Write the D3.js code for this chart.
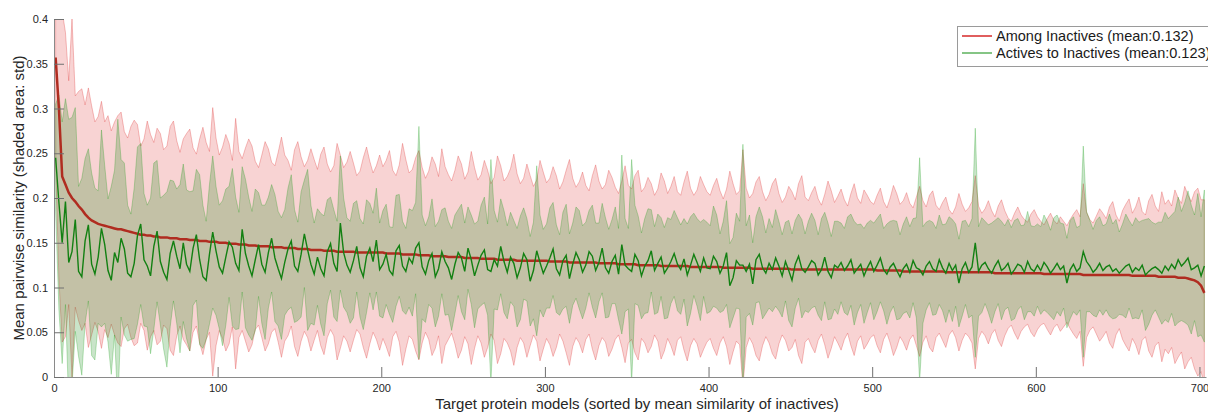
<!DOCTYPE html>
<html>
<head>
<meta charset="utf-8">
<script src="https://cdn.jsdelivr.net/npm/d3@7"></script>
<style>
    body { margin: 0; background: #fff; }
    svg { display: block; font-family: "Liberation Sans", Arial, Helvetica, sans-serif; }
</style>
</head>
<body>
<svg id="chart" width="1208" height="414"></svg>
<script>
// values, in thousandths, one value every 2nd model (1, 3, 5 ... 703)
var step = 2;

var inactMean = [
    357,300,224,215,206,200,196,191,187,182, 178,175,173,171,170,169,168,167,166,165,
    165,164,163,162,161,160,159,159,158,158, 157,157,156,156,156,155,155,155,154,154,
    154,153,153,153,152,152,152,151,151,151, 150,150,150,149,149,149,148,148,148,147,
    147,147,146,146,146,146,145,145,145,145, 144,144,144,144,143,143,143,143,142,142,
    142,142,141,141,141,141,140,140,140,140, 140,140,139,139,139,139,139,139,139,139,
    139,138,138,138,138,138,137,137,137,137, 137,136,136,136,136,135,135,135,135,135,
    134,134,134,134,134,133,133,133,133,133, 132,132,132,132,132,131,131,131,131,131,
    131,130,130,130,130,130,130,130,130,130, 130,129,129,129,129,129,129,128,128,128,
    128,128,128,128,128,128,127,127,127,127, 127,127,126,126,126,126,126,126,125,125,
    125,125,125,125,125,124,124,124,124,124, 124,124,124,124,123,123,123,123,123,123,
    123,123,123,123,122,122,122,122,122,122, 122,122,122,121,121,121,121,121,121,121,
    121,121,121,121,121,120,120,120,120,120, 120,120,120,120,120,120,120,120,120,120,
    120,120,120,120,120,120,120,120,120,120, 120,119,119,119,119,119,119,119,119,118,
    118,118,118,118,118,118,118,118,118,118, 118,118,117,117,117,117,117,117,117,117,
    117,117,117,117,117,117,117,116,116,116, 116,116,116,116,116,116,116,116,116,116,
    116,116,115,115,115,115,115,115,115,115, 115,115,115,115,114,114,114,114,114,114,
    114,114,114,114,114,114,114,114,114,113, 113,113,113,113,113,113,113,112,112,112,
    112,112,112,111,111,111,110,109,108,106, 102,94
];
var inactStd = [
    120,190,185,170,125,200,118,128,135,122, 145,128,112,120,138,116,124,108,119,127,
    131,110,104,118,126,122,99,107,128,113, 105,121,116,98,102,125,131,109,97,112,
    118,124,103,96,114,127,110,101,150,116, 98,107,121,112,93,140,104,96,108,119,
    111,94,88,102,117,109,95,91,106,123, 104,98,87,110,120,103,92,99,113,101,
    90,107,116,97,88,95,121,108,94,100, 112,99,86,91,106,118,102,89,97,109,
    96,104,115,93,87,99,124,106,91,95, 108,117,98,86,94,111,103,89,120,100,
    92,85,97,113,104,88,96,119,101,87, 94,110,99,84,91,116,105,88,93,102,
    118,97,86,92,108,95,83,90,112,99, 87,93,106,96,81,89,102,115,94,84,
    90,101,86,80,97,109,92,83,88,104, 96,85,79,93,110,88,84,99,106,82,
    87,98,91,78,85,104,95,81,89,100, 83,79,94,106,88,80,86,101,92,84,
    80,91,99,85,77,88,108,94,82,86, 132,89,78,84,97,103,86,76,83,95,
    101,84,74,80,92,87,78,96,105,81, 77,86,93,79,72,84,99,88,75,82,
    90,78,71,85,96,80,74,89,83,76, 73,84,92,77,70,81,95,86,74,79,
    88,76,71,83,95,79,72,85,90,74, 69,77,84,70,65,73,88,76,68,72,
    79,108,74,66,71,80,69,63,75,82, 70,62,58,67,74,65,60,57,66,71,
    63,58,55,62,68,60,56,64,59,54, 61,67,72,64,102,70,62,58,66,74,
    69,63,76,82,67,60,72,79,85,70, 77,88,72,68,84,91,78,73,95,81,
    86,79,97,89,83,102,93,87,99,105, 96,104
];
var actMean = [
    245,195,150,196,128,140,176,118,112,152, 170,126,115,134,166,148,119,108,139,128,
    155,143,116,112,127,158,171,131,124,113, 146,163,129,117,109,138,152,135,121,150,
    126,118,144,159,131,112,108,137,162,141, 123,116,134,151,145,127,119,165,138,124,
    113,131,148,126,117,139,155,133,121,110, 128,143,152,124,118,137,160,142,126,115,
    134,121,113,140,149,127,118,172,139,125, 117,130,146,122,112,135,144,129,153,120,
    126,137,119,114,141,147,124,118,133,127, 144,150,123,115,130,138,112,121,140,129,
    122,109,126,139,133,118,144,131,113,125, 136,142,120,118,131,124,146,129,117,134,
    127,111,122,138,131,107,119,141,128,116, 124,133,143,121,114,130,136,110,126,139,
    131,117,125,140,135,119,128,144,122,116, 129,136,115,148,125,121,118,137,130,113,
    124,130,141,119,127,134,116,122,129,138, 126,120,132,114,125,137,128,118,133,122,
    121,135,129,116,124,139,102,111,130,125, 125,118,126,104,131,137,122,116,127,120,
    133,124,113,129,119,108,126,135,121,117, 123,130,127,114,120,134,118,111,125,122,
    128,119,124,131,116,121,126,113,122,129, 118,125,133,120,115,123,127,119,112,121,
    126,117,130,122,120,114,124,129,121,118, 131,122,116,127,119,125,105,121,128,117,
    123,150,118,125,128,121,116,124,130,119, 122,127,115,120,126,124,117,129,121,118,
    125,119,128,123,116,121,127,120,124,105, 120,126,118,122,140,129,124,117,121,127,
    119,123,125,118,121,116,120,124,126,117, 122,119,125,114,118,121,123,120,116,124,
    119,126,121,131,124,128,133,120,122,125, 113,124
];
var actStd = [
    60,120,135,115,160,150,125,95,110,92, 85,102,96,74,110,88,80,105,92,160,
    88,96,76,70,84,99,90,74,68,87, 93,79,71,86,98,82,67,75,94,88,
    83,89,64,73,95,80,66,78,85,72, 69,81,76,62,88,74,65,70,83,77,
    72,79,58,66,75,62,60,71,64,68, 59,68,74,63,55,70,60,90,66,57,
    54,62,67,58,52,60,56,75,61,53, 57,64,51,55,59,63,50,54,58,52,
    60,56,49,53,62,57,50,48,55,59, 51,130,58,54,49,61,56,53,47,60,
    52,57,55,48,60,54,46,50,58,49, 56,59,51,125,55,49,53,57,52,50,
    48,55,58,51,46,50,54,95,53,49, 47,56,52,49,45,54,57,50,46,51,
    55,52,48,46,57,53,44,50,56,49, 47,54,51,100,52,45,125,55,50,48,
    53,58,46,49,55,44,51,56,47,48, 52,50,45,57,54,46,49,55,43,51,
    48,56,52,44,50,58,47,45,53,49, 135,51,55,46,48,53,57,45,50,47,
    54,50,46,44,56,52,49,47,55,43, 51,53,48,45,57,50,54,46,49,52,
    44,47,55,51,58,49,45,53,50,46, 54,52,49,46,56,51,48,55,47,50,
    53,51,47,56,125,54,49,46,52,48, 50,48,55,52,57,46,49,53,47,51,
    54,128,50,53,46,49,56,51,48,55, 47,49,52,55,51,45,53,56,48,50,
    46,49,53,51,48,57,54,52,47,50, 55,53,49,47,118,56,51,48,54,52,
    50,48,57,53,55,46,51,58,49,52, 56,54,50,62,59,52,48,53,57,60,
    58,55,64,70,61,67,75,72,59,80, 66,85
];

var xTicks = [0, 100, 200, 300, 400, 500, 600, 700];
var yTicks = [0, 0.05, 0.1, 0.15, 0.2, 0.25, 0.3, 0.35, 0.4];
var seriesNames = ['Among Inactives (mean:0.132)', 'Actives to Inactives (mean:0.123)'];
var xTitle = 'Target protein models (sorted by mean similarity of inactives)';
var yTitle = 'Mean pairwise similarity (shaded area: std)';

drawChart();

function drawChart() {
    var svg = d3.select('#chart');
    // plot box in pixels (note: "top" is taken by window.top, so px* names)
    var pxLeft = 54, pxRight = 1206, pxTop = 19, pxBottom = 377;

    var x = d3.scaleLinear().domain([0, 704]).range([pxLeft, pxRight]);
    var y = d3.scaleLinear().domain([0, 0.4]).range([pxBottom, pxTop]);

    function rows(mean, std) {
        return mean.map(function (m, i) {
            return {i: 1 + i * step, m: m / 1000, s: std[i] / 1000};
        });
    }
    var inact = rows(inactMean, inactStd);
    var act = rows(actMean, actStd);

    svg.append('defs').append('clipPath').attr('id', 'plot')
        .append('rect').attr('x', pxLeft).attr('y', pxTop)
        .attr('width', pxRight - pxLeft).attr('height', pxBottom - pxTop);

    var band = d3.area()
        .x(function (d) { return x(d.i); })
        .y0(function (d) { return y(d.m - d.s); })
        .y1(function (d) { return y(d.m + d.s); });
    var line = d3.line()
        .x(function (d) { return x(d.i); })
        .y(function (d) { return y(d.m); });

    var g = svg.append('g').attr('clip-path', 'url(#plot)');

    // shaded std areas
    g.append('path').datum(inact).attr('d', band)
        .attr('fill', 'rgb(222,48,48)').attr('fill-opacity', 0.21)
        .attr('stroke', 'rgb(222,48,48)').attr('stroke-opacity', 0.3).attr('stroke-width', 1);
    g.append('path').datum(act).attr('d', band)
        .attr('fill', 'rgb(0,128,0)').attr('fill-opacity', 0.21)
        .attr('stroke', 'rgb(0,150,0)').attr('stroke-opacity', 0.25).attr('stroke-width', 1);

    // mean lines
    g.append('path').datum(inact).attr('d', line)
        .attr('fill', 'none').attr('stroke', 'rgb(176,44,32)').attr('stroke-width', 2.5);
    g.append('path').datum(act).attr('d', line)
        .attr('fill', 'none').attr('stroke', 'rgb(18,128,18)').attr('stroke-width', 1.4);

    // axes, MATLAB style: ticks pointing in, no box
    var xAxis = svg.append('g').attr('transform', 'translate(0,' + pxBottom + ')')
        .call(d3.axisBottom(x).tickValues(xTicks).tickSizeInner(-10).tickSizeOuter(0).tickPadding(6));
    var yAxis = svg.append('g').attr('transform', 'translate(' + pxLeft + ',0)')
        .call(d3.axisLeft(y).tickValues(yTicks).tickSizeInner(-10).tickSizeOuter(0).tickPadding(6)
            .tickFormat(function (d) { return d === 0 ? '0' : String(+d.toFixed(2)); }));

    [xAxis, yAxis].forEach(function (a) {
        a.select('.domain').attr('stroke', '#8a8a8a');
        a.selectAll('.tick line').attr('stroke', '#707070');
        a.selectAll('.tick text').attr('fill', '#262626').style('font-size', '11px');
    });
    xAxis.selectAll('.tick text').attr('y', 7);

    svg.append('text').attr('x', 637).attr('y', 409)
        .attr('text-anchor', 'middle').attr('fill', '#262626').style('font-size', '15px')
        .text(xTitle);
    svg.append('text').attr('transform', 'translate(24,' + ((pxTop + pxBottom) / 2) + ') rotate(-90)')
        .attr('text-anchor', 'middle').attr('fill', '#262626').style('font-size', '15px')
        .text(yTitle);

    // legend (runs off the right edge as in the figure)
    var legend = svg.append('g');
    legend.append('rect').attr('x', 957.5).attr('y', 26.5).attr('width', 262).attr('height', 40)
        .attr('fill', '#fff').attr('stroke', '#9a9a9a').attr('stroke-width', 1);
    var legendColors = ['rgb(214,40,40)', 'rgb(92,178,92)'];
    seriesNames.forEach(function (name, k) {
        var ly = 36 + k * 17;
        legend.append('line').attr('x1', 962).attr('x2', 992).attr('y1', ly).attr('y2', ly)
            .attr('stroke', legendColors[k]).attr('stroke-width', 1.5);
        legend.append('text').attr('x', 996).attr('y', ly + 5)
            .attr('fill', '#1a1a1a').style('font-size', '14.5px').text(name);
    });
}
</script>
</body>
</html>
